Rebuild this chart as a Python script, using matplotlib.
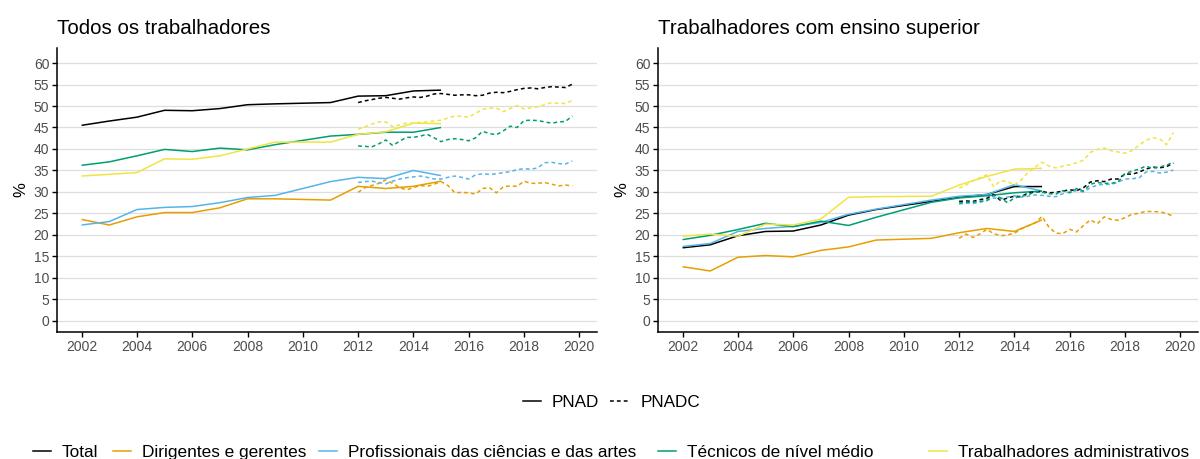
import numpy as np
import matplotlib.pyplot as plt
from matplotlib.lines import Line2D

plt.rcParams['font.family'] = ['Liberation Sans', 'DejaVu Sans']

# anos da PNAD anual (sem 2010) e trimestres da PNAD Contínua
pnad_years = [2002, 2003, 2004, 2005, 2006, 2007, 2008, 2009, 2011, 2012, 2013, 2014, 2015]
pnadc_quarters = np.arange(2012, 2020, 0.25)

groups = ['Total', 'Dirigentes e gerentes', 'Profissionais das ciências e das artes',
          'Técnicos de nível médio', 'Trabalhadores administrativos']
colors = ['#000000', '#E69F00', '#56B4E9', '#009E73', '#F0E442']

# --- Todos os trabalhadores ---
todos_pnad_total = [45.5, 46.5, 47.4, 49.0, 48.9, 49.4, 50.3, 50.5, 50.8, 52.3, 52.4, 53.5, 53.7]
todos_pnad_dirig = [23.6, 22.3, 24.2, 25.2, 25.2, 26.3, 28.4, 28.4, 28.1, 31.3, 30.8, 31.3, 32.5]
todos_pnad_prof = [22.3, 23.1, 25.9, 26.4, 26.6, 27.5, 28.7, 29.2, 32.4, 33.4, 33.1, 35.0, 33.8]
todos_pnad_tec = [36.2, 37.0, 38.4, 39.9, 39.4, 40.2, 39.8, 41.0, 43.0, 43.4, 43.9, 43.9, 45.0]
todos_pnad_adm = [33.7, 34.1, 34.5, 37.7, 37.6, 38.4, 40.0, 41.6, 41.6, 43.4, 44.0, 46.0, 45.9]

todos_pnadc_total = [50.8, 51.2, 51.5, 51.8, 52.0, 51.8, 51.6, 51.9,
                     52.1, 52.0, 52.3, 52.8, 52.9, 52.7, 52.5, 52.6,
                     52.6, 52.4, 52.5, 53.0, 53.2, 53.1, 53.4, 53.8,
                     54.1, 54.2, 54.0, 54.3, 54.5, 54.4, 54.3, 55.1]
todos_pnadc_dirig = [29.9, 31.0, 31.5, 32.0, 32.8, 32.0, 31.0, 30.5,
                     31.0, 31.5, 31.3, 31.8, 32.4, 31.5, 29.8, 29.9,
                     29.8, 29.5, 30.8, 31.0, 29.8, 31.2, 31.4, 31.3,
                     32.5, 32.0, 32.0, 32.2, 31.8, 31.4, 31.6, 31.4]
todos_pnadc_prof = [32.2, 32.4, 32.5, 32.2, 31.9, 32.5, 33.0, 33.3,
                    33.5, 33.7, 33.4, 33.0, 33.0, 33.4, 33.7, 33.4,
                    33.0, 34.0, 34.2, 34.1, 34.2, 34.5, 34.7, 35.2,
                    35.4, 35.3, 35.6, 36.8, 36.9, 36.6, 36.5, 37.2]
todos_pnadc_tec = [40.7, 40.6, 40.5, 41.2, 42.1, 40.8, 41.8, 42.7,
                   42.7, 43.0, 43.4, 42.6, 41.7, 42.2, 42.4, 42.2,
                   41.9, 42.6, 44.1, 43.6, 43.3, 44.2, 45.3, 45.0,
                   46.6, 46.7, 46.6, 46.3, 46.0, 46.3, 46.4, 47.7]
todos_pnadc_adm = [44.6, 45.2, 45.8, 46.3, 46.3, 45.2, 45.6, 46.0,
                   46.0, 46.2, 46.3, 46.5, 46.7, 47.2, 47.7, 47.6,
                   47.4, 48.3, 49.2, 49.5, 49.5, 48.7, 49.4, 50.1,
                   49.3, 49.6, 49.8, 50.3, 50.8, 50.6, 50.6, 51.3]

# --- Trabalhadores com ensino superior ---
sup_pnad_total = [17.0, 17.7, 19.8, 20.8, 20.9, 22.3, 24.6, 25.9, 27.8, 28.75, 29.4, 31.25, 31.25]
sup_pnad_dirig = [12.6, 11.6, 14.8, 15.2, 14.9, 16.4, 17.2, 18.8, 19.2, 20.5, 21.5, 20.8, 23.5]
sup_pnad_prof = [17.3, 18.0, 20.8, 21.5, 22.0, 22.9, 24.8, 26.0, 28.1, 29.0, 29.4, 31.7, 30.2]
sup_pnad_tec = [18.9, 19.9, 21.25, 22.7, 21.9, 23.2, 22.2, 24.1, 27.6, 28.6, 29.1, 29.8, 30.2]
sup_pnad_adm = [19.7, 20.2, 19.7, 22.5, 22.3, 23.7, 28.75, 28.9, 29.0, 31.6, 33.6, 35.3, 35.5]

sup_pnadc_total = [27.8, 27.9, 27.8, 28.2, 28.5, 29.4, 28.0, 28.6,
                   29.0, 28.9, 29.8, 30.0, 30.1, 29.8, 29.9, 30.2,
                   30.5, 30.3, 31.0, 32.3, 32.6, 32.4, 33.0, 33.0,
                   34.2, 34.1, 34.6, 35.3, 35.8, 35.6, 35.9, 36.7]
sup_pnadc_dirig = [19.2, 20.2, 19.4, 20.2, 21.3, 20.3, 19.8, 20.0,
                   20.4, 21.4, 22.1, 22.8, 24.3, 21.8, 20.4, 20.3,
                   21.3, 20.7, 22.2, 23.5, 22.6, 24.2, 23.6, 23.4,
                   24.0, 24.8, 25.0, 25.5, 25.4, 25.4, 25.0, 24.3]
sup_pnadc_prof = [27.2, 27.4, 27.3, 27.6, 28.0, 28.6, 28.4, 28.8,
                  29.1, 28.8, 29.0, 29.3, 29.2, 29.0, 28.9, 29.6,
                  30.0, 30.3, 30.0, 31.0, 31.6, 31.8, 31.7, 32.3,
                  33.0, 33.1, 33.2, 34.6, 34.8, 34.4, 34.6, 35.1]
sup_pnadc_tec = [27.4, 27.6, 27.6, 27.8, 28.0, 29.2, 28.6, 27.5,
                 28.6, 29.0, 29.3, 30.1, 29.9, 29.6, 29.5, 30.3,
                 29.8, 30.8, 30.2, 31.8, 32.2, 32.0, 32.0, 32.3,
                 34.3, 34.8, 35.3, 36.0, 35.5, 35.8, 36.2, 37.0]
sup_pnadc_adm = [30.9, 31.6, 32.6, 33.3, 34.0, 31.2, 32.6, 32.4,
                 31.6, 32.8, 34.6, 35.8, 36.9, 36.0, 35.6, 36.0,
                 36.3, 36.8, 37.4, 39.2, 39.9, 40.2, 39.6, 39.3,
                 39.0, 39.6, 40.8, 42.0, 42.6, 42.4, 41.0, 43.8]

panels = [
    ('Todos os trabalhadores',
     [todos_pnad_total, todos_pnad_dirig, todos_pnad_prof, todos_pnad_tec, todos_pnad_adm],
     [todos_pnadc_total, todos_pnadc_dirig, todos_pnadc_prof, todos_pnadc_tec, todos_pnadc_adm]),
    ('Trabalhadores com ensino superior',
     [sup_pnad_total, sup_pnad_dirig, sup_pnad_prof, sup_pnad_tec, sup_pnad_adm],
     [sup_pnadc_total, sup_pnadc_dirig, sup_pnadc_prof, sup_pnadc_tec, sup_pnadc_adm]),
]

W, H = 1200, 459
fig = plt.figure(figsize=(W / 100, H / 100), dpi=100)
dotted = (0, (2.5, 2))
lw = 1.1

for i, (title, pnad, pnadc) in enumerate(panels):
    left = [57, 658][i]
    ax = fig.add_axes([left / W, 1 - 332 / H, 540 / W, 284 / H])
    for serie, c in zip(pnad, colors):
        ax.plot(pnad_years, serie, color=c, lw=lw, solid_capstyle='butt')
    for serie, c in zip(pnadc, colors):
        ax.plot(pnadc_quarters, serie, color=c, lw=lw, linestyle=dotted)

    ax.set_xlim(2001.11, 2020.64)
    ax.set_ylim(-2.6, 63.5)
    ax.set_xticks(range(2002, 2021, 2))
    ax.set_yticks(range(0, 61, 5))
    ax.grid(axis='y', color='#dedede', linewidth=0.9)
    ax.set_axisbelow(True)
    for s in ['top', 'right']:
        ax.spines[s].set_visible(False)
    for s in ['left', 'bottom']:
        ax.spines[s].set_linewidth(1.1)
    ax.tick_params(labelsize=10, labelcolor='#4d4d4d', length=3.5, width=1, pad=2)
    ax.set_ylabel('%', fontsize=12, labelpad=4)
    ax.set_title(title, loc='left', fontsize=14.8, pad=10)

# legenda do tipo de pesquisa
def fig_key(x0, x1, y, color, ls='-'):
    fig.add_artist(Line2D([x0 / W, x1 / W], [1 - y / H, 1 - y / H], color=color,
                          lw=lw, linestyle=ls, transform=fig.transFigure))

fig_key(523, 541, 401, 'black')
fig.text(552 / W, 1 - 401 / H, 'PNAD', fontsize=12.3, va='center_baseline')
fig_key(610, 628, 401, 'black', dotted)
fig.text(641 / W, 1 - 401 / H, 'PNADC', fontsize=12.3, va='center_baseline')

# legenda dos grupos
key_x = [33, 113, 319, 658, 929]
for g, c, kx in zip(groups, colors, key_x):
    fig_key(kx, kx + 18, 451, c)
    fig.text((kx + 29) / W, 1 - 451 / H, g, fontsize=12.4, va='center_baseline')

fig.savefig('out.png', dpi=100)
